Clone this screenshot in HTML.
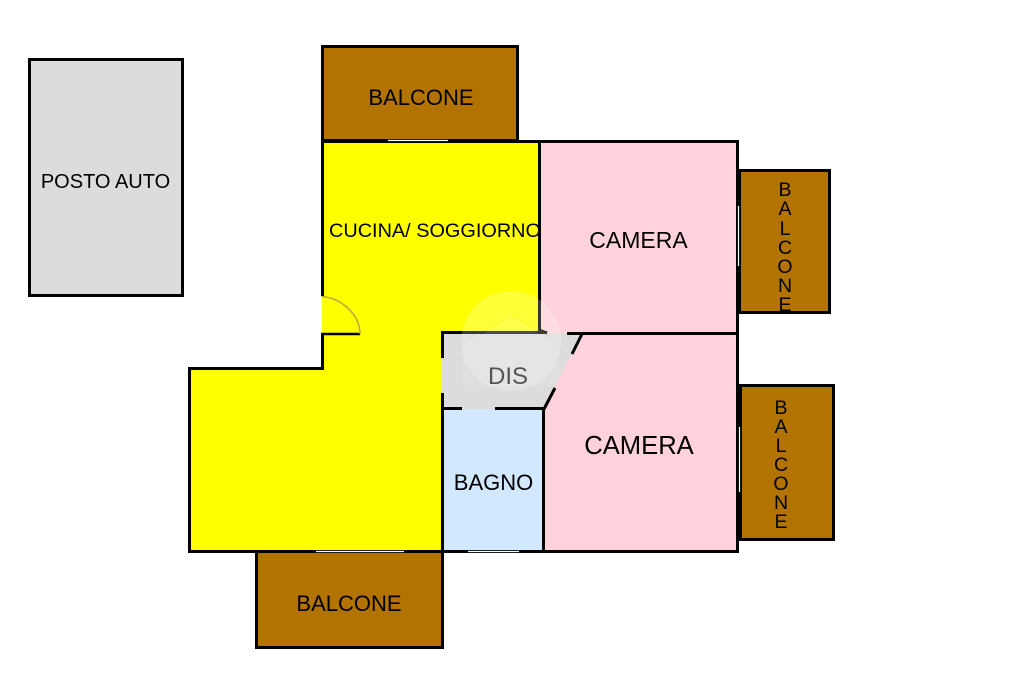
<!DOCTYPE html>
<html><head><meta charset="utf-8"><style>
html,body{margin:0;padding:0;background:#fff}
svg{display:block}
text{font-family:"Liberation Sans",Arial,sans-serif;fill:#000}
</style></head><body>
<svg width="1024" height="682" viewBox="0 0 1024 682" xmlns="http://www.w3.org/2000/svg">
<rect width="1024" height="682" fill="#fff"/>
<g stroke="#000" stroke-width="3">
<rect x="29.5" y="59.5" width="153" height="236" fill="#dcdcdc"/>
<rect x="322.5" y="46.5" width="195" height="94" fill="#b27300"/>
<rect x="739.5" y="170.5" width="90" height="142" fill="#b27300"/>
<rect x="740.5" y="385.5" width="93" height="154" fill="#b27300"/>
<rect x="256.5" y="551.5" width="186" height="96" fill="#b27300"/>
</g>
<!-- rooms -->
<polygon points="322,141 539,141 539,333 442,333 442,551 190,551 190,368 322,368" fill="#ffff00"/>
<rect x="539" y="141" width="198" height="192" fill="#ffd2dc"/>
<polygon points="582,333 737,333 737,551 543,551 543,409" fill="#ffd2dc"/>
<rect x="442" y="409" width="101" height="142" fill="#d2e8ff"/>
<polygon points="441,333 582,333 544,409 441,409" fill="#dcdcdc"/>
<text x="329" y="237" font-size="19.500" textLength="212" lengthAdjust="spacingAndGlyphs">CUCINA/ SOGGIORNO</text>
<!-- walls -->
<g fill="none" stroke="#000" stroke-width="3">
<path d="M322.5 141V296M322.5 334V368.5H189.5V551.5H442M322 141.5H739M539.5 141V333"/>
<path d="M737.5 140V552M442 551.5H739"/>
<path d="M442.5 333V358M442.5 393V552M441 332.5H547M567 333.5H738"/>
<path d="M442 408.5H462M495 408.5H544"/>
<path d="M543.5 408V551"/>
<path d="M582 334L572 354M555 388L544 409"/>
<path d="M539 330L547 333"/>
<path d="M321 334H360" stroke-width="2.5"/>
</g>
<path d="M321.5 296.500C342 298 360 315 360 334" fill="none" stroke="#b8a838" stroke-width="1.500"/>
<!-- window openings -->
<g stroke="#fff" stroke-width="1.200">
<path d="M388 140.500H448M316 551.500H404M468 551.500H519M738.500 206V266M739.500 427V492"/>
</g>
<!-- watermark -->
<circle cx="511" cy="341" r="50" fill="#fff" opacity=".22"/>
<path d="M463 346L511 316L559 346V386H463Z" fill="#fff" opacity=".1"/>
<path d="M466 340L511 316L556 340" fill="none" stroke="#c8c800" stroke-width="1" opacity=".12"/>
<!-- labels -->
<text x="105.500" y="188" font-size="20" text-anchor="middle">POSTO AUTO</text>
<text x="421" y="105" font-size="22" text-anchor="middle">BALCONE</text>
<text x="638.500" y="248" font-size="23" text-anchor="middle">CAMERA</text>
<text x="639" y="454" font-size="25.600" text-anchor="middle">CAMERA</text>
<text x="493.500" y="490" font-size="22" text-anchor="middle">BAGNO</text>
<text x="508" y="384" font-size="24" text-anchor="middle" style="fill:#555">DIS</text>
<text x="349" y="611" font-size="22" text-anchor="middle">BALCONE</text>
<g font-size="19.500" text-anchor="middle">
<text x="785" y="196">B</text><text x="785" y="215">A</text><text x="785" y="235">L</text><text x="785" y="254">C</text><text x="785" y="273">O</text><text x="785" y="292">N</text><text x="785" y="311">E</text>
</g>
<g font-size="19.500" text-anchor="middle">
<text x="781" y="414">B</text><text x="781" y="433">A</text><text x="781" y="452">L</text><text x="781" y="471">C</text><text x="781" y="490">O</text><text x="781" y="509">N</text><text x="781" y="528">E</text>
</g>
</svg>
</body></html>
